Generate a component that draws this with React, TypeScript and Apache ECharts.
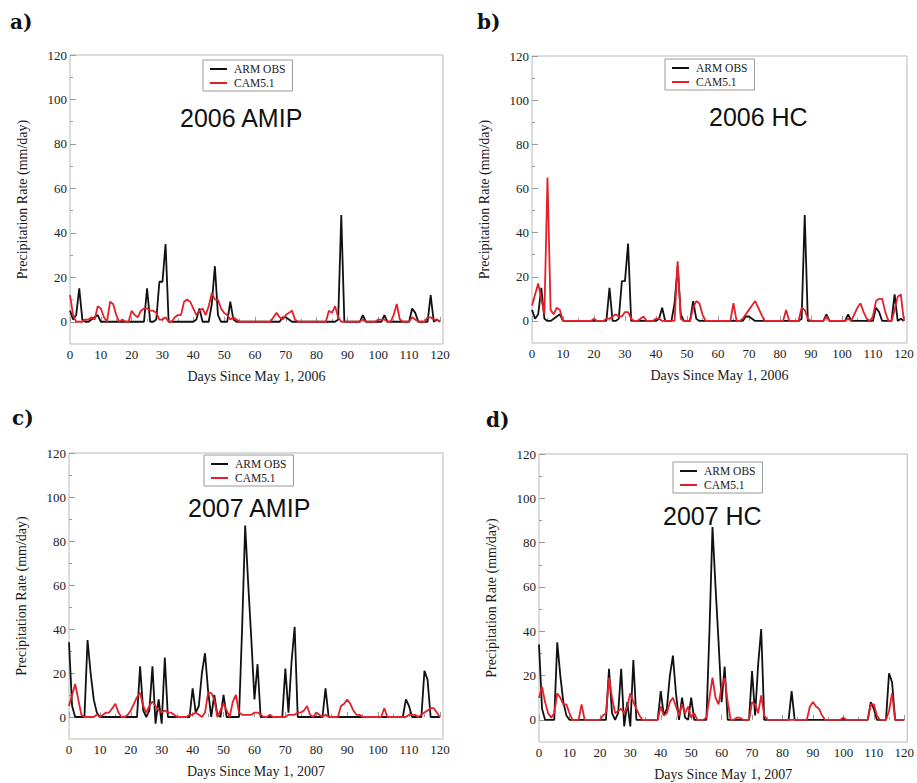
import React, { useEffect, useRef } from 'react';
import * as echarts from 'echarts';

// ---------- data (daily values, day 0 .. 120) ----------
const OBS_2006 = [
  5, 1, 3, 15, 1, 0, 0, 1, 2, 3,
  0, 0, 0, 0, 0, 0, 0, 0, 0, 0,
  0, 0, 0, 0, 0, 15, 0, 0, 1, 18,
  18, 35, 0, 0, 0, 0, 0, 0, 0, 0,
  0, 1, 6, 0, 0, 0, 8, 25, 3, 0,
  0, 0, 9, 1, 0, 0, 0, 0, 0, 0,
  0, 0, 0, 0, 0, 0, 0, 0, 0, 2,
  2, 1, 0, 0, 0, 0, 0, 0, 0, 0,
  0, 0, 0, 0, 0, 0, 0, 1, 48, 0,
  0, 0, 0, 0, 0, 3, 0, 0, 0, 0,
  0, 0, 3, 0, 0, 0, 0, 0, 0, 0,
  0, 6, 4, 0, 0, 0, 0, 12, 0, 1,
  0,
];
const CAM_AMIP_2006 = [
  12, 3, 0, 0, 0, 1, 1, 2, 1, 7,
  6, 2, 0, 9, 8, 3, 0, 1, 0, 0,
  5, 3, 2, 5, 6, 6, 5, 5, 4, 1,
  1, 2, 0, 0, 2, 3, 3, 9, 10, 9,
  6, 3, 5, 6, 3, 7, 13, 10, 10, 6,
  4, 3, 1, 2, 1, 0, 0, 0, 0, 0,
  0, 0, 0, 0, 0, 0, 2, 4, 2, 1,
  3, 4, 5, 1, 0, 0, 0, 0, 0, 0,
  0, 0, 0, 0, 5, 4, 7, 2, 0, 0,
  0, 0, 0, 0, 0, 1, 0, 0, 0, 0,
  1, 1, 1, 0, 0, 3, 8, 1, 0, 0,
  0, 2, 1, 0, 0, 0, 2, 2, 1, 1,
  0,
];
const CAM_HC_2006 = [
  7, 12, 17, 10, 3, 65, 5, 3, 6, 5,
  0, 0, 0, 0, 0, 0, 0, 0, 0, 0,
  1, 0, 0, 0, 1, 1, 2, 3, 2, 2,
  4, 4, 1, 0, 0, 1, 2, 0, 0, 0,
  1, 1, 0, 0, 0, 0, 0, 27, 1, 0,
  0, 0, 6, 9, 8, 3, 0, 0, 0, 0,
  0, 0, 0, 0, 0, 8, 0, 0, 1, 3,
  5, 7, 9, 6, 3, 0, 0, 0, 0, 0,
  0, 0, 5, 0, 0, 0, 0, 6, 5, 1,
  0, 0, 0, 0, 0, 2, 0, 0, 0, 0,
  0, 0, 1, 0, 3, 6, 8, 4, 1, 0,
  2, 9, 10, 10, 4, 0, 0, 5, 11, 12,
  0,
];
const OBS_2007 = [
  34, 5, 0, 0, 0, 0, 35, 20, 8, 2,
  0, 0, 0, 0, 0, 0, 0, 0, 0, 0,
  0, 0, 0, 23, 3, 0, 3, 23, -3, 8,
  -3, 27, 0, 0, 0, 0, 0, 0, 0, 0,
  13, 2, 5, 20, 29, 12, 0, 10, 1, 0,
  10, 0, 0, 0, 0, 0, 40, 87, 60, 35,
  8, 24, 0, 0, 0, 0, 0, 0, 0, 0,
  22, 2, 25, 41, 0, 0, 0, 0, 0, 0,
  0, 0, 0, 13, 0, 0, 0, 0, 0, 0,
  0, 0, 0, 0, 0, 0, 0, 0, 0, 0,
  0, 0, 0, 0, 0, 0, 0, 0, 0, 8,
  5, 0, 0, 0, 0, 21, 17, 0, 0, 0,
  0,
];
const CAM_AMIP_2007 = [
  5, 10, 15, 8, 1, 0, 0, 0, 0, 1,
  0, 1, 2, 2, 4, 6, 2, 0, 0, 1,
  3, 6, 9, 11, 5, 2, 5, 7, 5, 3,
  2, 3, 2, 2, 1, 0, 0, 0, 0, 1,
  1, 2, 1, 0, 2, 11, 11, 8, 0, 3,
  6, 3, 0, 7, 10, 2, 1, 1, 1, 1,
  2, 2, 1, 0, 0, 1, 0, 0, 0, 0,
  0, 1, 1, 1, 2, 2, 3, 5, 1, 0,
  2, 1, 0, 1, 0, 0, 0, 0, 5, 6,
  8, 6, 3, 1, 1, 0, 0, 0, 0, 0,
  0, 0, 4, 0, 0, 0, 0, 0, 0, 0,
  1, 1, 1, 0, 1, 2, 3, 4, 4, 2,
  0,
];
const CAM_HC_2007 = [
  10, 15, 8, 3, 1, 3, 12, 10, 7, 7,
  3, 0, 0, 0, 7, 0, 0, 0, 0, 0,
  0, 2, 3, 19, 10, 3, 4, 5, 3, 6,
  12, 8, 5, 2, 0, 0, 0, 0, 0, 0,
  6, 2, 3, 8, 10, 6, 2, 7, 3, 6,
  1, 3, 0, 0, 0, 1, 10, 19, 10, 7,
  15, 19, 8, 0, 0, 1, 1, 0, 0, 0,
  8, 7, 3, 11, 2, 0, 0, 0, 0, 0,
  0, 0, 0, 0, 0, 0, 0, 0, 0, 6,
  8, 6, 5, 2, 0, 0, 0, 0, 0, 0,
  1, 0, 0, 0, 0, 0, 0, 0, 0, 7,
  7, 2, 0, 0, 0, 4, 12, 0, 0, 0,
  0,
];

const X_TICKS = [0, 10, 20, 30, 40, 50, 60, 70, 80, 90, 100, 110, 120];
const X_MINOR = [5, 15, 25, 35, 45, 55, 65, 75, 85, 95, 105, 115];
const Y_TICKS = [0, 20, 40, 60, 80, 100, 120];
const Y_MINOR = [10, 30, 50, 70, 90, 110];
const SERIES_NAMES = ['ARM OBS', 'CAM5.1'];
const PANEL_LABELS = ['a)', 'b)', 'c)', 'd)'];
const RUN_LABELS = ['2006 AMIP', '2006 HC', '2007 AMIP', '2007 HC'];
const X_TITLES = [
  'Days Since May 1, 2006',
  'Days Since May 1, 2006',
  'Days Since May 1, 2007',
  'Days Since May 1, 2007',
];
const Y_TITLE = 'Precipitation Rate (mm/day)';
const OBS_SETS = [OBS_2006, OBS_2006, OBS_2007, OBS_2007];
const CAM_SETS = [CAM_AMIP_2006, CAM_HC_2006, CAM_AMIP_2007, CAM_HC_2007];

// ---------- layout ----------
const LAYOUT = [
  { grid: { left: 70, top: 55, width: 373, height: 289 }, label: [10, 22], run: [180, 118], legend: [203, 60] },
  { grid: { left: 532, top: 56, width: 375, height: 287 }, label: [477, 22], run: [709, 117], legend: [665, 59] },
  { grid: { left: 69, top: 453, width: 374, height: 286 }, label: [12, 418], run: [188, 508], legend: [204, 455] },
  { grid: { left: 539, top: 454, width: 374, height: 288 }, label: [486, 420], run: [663, 516], legend: [673, 462] },
];

const SERIF = 'Liberation Serif';
const AXIS_GRAY = '#9a9a9a';

function buildOption() {
  const grid: any[] = [];
  const xAxis: any[] = [];
  const yAxis: any[] = [];
  const series: any[] = [];
  const legend: any[] = [];
  const graphic: any[] = [];

  LAYOUT.forEach((p, i) => {
    grid.push({ ...p.grid, show: true, borderColor: '#b8b8b8', borderWidth: 1, backgroundColor: 'transparent' });

    xAxis.push({
      gridIndex: i, type: 'value', position: 'bottom', min: 0, max: 121, interval: 10,
      axisLine: { show: false }, splitLine: { show: false },
      axisTick: { show: true, inside: true, length: 5, customValues: X_TICKS, lineStyle: { color: AXIS_GRAY } },
      axisLabel: {
        customValues: X_TICKS, margin: 4, fontFamily: SERIF, fontSize: 13, color: '#222',
        formatter: (v: number) => (v % 10 === 0 ? String(v) : ''),
      },
      name: X_TITLES[i], nameLocation: 'middle', nameGap: 25,
      nameTextStyle: { fontFamily: SERIF, fontSize: 14, color: '#1a1a1a' },
    });
    xAxis.push({
      gridIndex: i, type: 'value', position: 'bottom', min: 0, max: 121, interval: 5,
      axisLine: { show: false }, splitLine: { show: false }, axisLabel: { show: false },
      axisTick: { show: true, inside: true, length: 3, customValues: X_MINOR, lineStyle: { color: AXIS_GRAY } },
    });

    yAxis.push({
      gridIndex: i, type: 'value', position: 'left', min: -10, max: 120, interval: 10,
      axisLine: { show: false }, splitLine: { show: false },
      axisTick: { show: true, inside: true, length: 6, customValues: Y_TICKS, lineStyle: { color: AXIS_GRAY } },
      axisLabel: {
        customValues: Y_TICKS, margin: 3, fontFamily: SERIF, fontSize: 13, color: '#222',
        formatter: (v: number) => (v >= 0 && v % 20 === 0 ? String(v) : ''),
      },
      name: Y_TITLE, nameLocation: 'middle', nameGap: 41, nameRotate: 90,
      nameTextStyle: { fontFamily: SERIF, fontSize: 14, color: '#1a1a1a' },
    });
    yAxis.push({
      gridIndex: i, type: 'value', position: 'left', min: -10, max: 120, interval: 10,
      axisLine: { show: false }, splitLine: { show: false }, axisLabel: { show: false },
      axisTick: { show: true, inside: true, length: 3, customValues: Y_MINOR, lineStyle: { color: AXIS_GRAY } },
    });

    series.push({
      name: SERIES_NAMES[0], type: 'line', xAxisIndex: 2 * i, yAxisIndex: 2 * i,
      data: OBS_SETS[i].map((v, d) => [d, v]),
      showSymbol: false, symbol: 'none', z: 2,
      lineStyle: { color: '#111111', width: 1.8 }, itemStyle: { color: '#111111' },
    });
    series.push({
      name: SERIES_NAMES[1], type: 'line', xAxisIndex: 2 * i, yAxisIndex: 2 * i,
      data: CAM_SETS[i].map((v, d) => [d, v]),
      showSymbol: false, symbol: 'none', z: 3,
      lineStyle: { color: '#e3202b', width: 1.8 }, itemStyle: { color: '#e3202b' },
    });

    legend.push({
      left: p.legend[0], top: p.legend[1], orient: 'vertical', data: SERIES_NAMES,
      icon: 'rect', itemWidth: 17, itemHeight: 2, itemGap: 2, padding: [3, 7, 2, 7],
      borderColor: '#999', borderWidth: 1, backgroundColor: '#fff', selectedMode: false,
      textStyle: { fontFamily: SERIF, fontSize: 11.5, color: '#1a1a1a', padding: [0, 0, 0, 2] },
    });

    graphic.push({
      type: 'text', x: p.label[0], y: p.label[1],
      style: { text: PANEL_LABELS[i], font: 'bold 20px "DejaVu Serif"', fill: '#111', textAlign: 'left', textVerticalAlign: 'middle' },
    });
    graphic.push({
      type: 'text', x: p.run[0], y: p.run[1], z: 10,
      style: { text: RUN_LABELS[i], font: '25px "Liberation Sans"', fill: '#111', textAlign: 'left', textVerticalAlign: 'middle' },
    });
  });

  return { animation: false, backgroundColor: '#ffffff', grid, xAxis, yAxis, series, legend, graphic };
}

export default function App() {
  const ref = useRef<HTMLDivElement>(null);
  useEffect(() => {
    if (!ref.current) return;
    const chart = echarts.init(ref.current, undefined, { renderer: 'svg' });
    chart.setOption(buildOption() as any);
    return () => chart.dispose();
  }, []);
  return (
    <div
      ref={ref}
      style={{ position: 'absolute', left: 0, top: 0, width: 917, height: 783, background: '#fff' }}
    />
  );
}
